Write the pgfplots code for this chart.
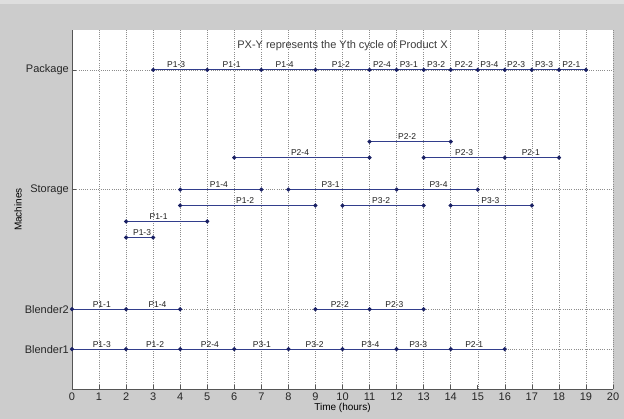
\documentclass[border=0pt]{standalone}
\usepackage{pgfplots}
\pgfplotsset{compat=1.18}
\usepackage{fontspec}
\setmainfont{Liberation Sans}
\definecolor{figbg}{RGB}{204,204,204}
\definecolor{figtop}{RGB}{222,222,222}
\definecolor{seg}{RGB}{50,62,140}
\definecolor{segdot}{RGB}{25,32,100}
\definecolor{gridc}{RGB}{140,140,140}
\definecolor{axc}{RGB}{85,85,85}
\definecolor{labc}{RGB}{30,30,30}
\definecolor{titc}{RGB}{60,60,60}

\pgfplotstableread{
x y
0 1
2 1
4 1
6 1
8 1
10 1
12 1
14 1
16 1
nan nan
0 2
2 2
4 2
nan nan
9 2
11 2
13 2
nan nan
3 8
5 8
7 8
9 8
11 8
12 8
13 8
14 8
15 8
16 8
17 8
18 8
19 8
nan nan
4 5
7 5
nan nan
8 5
12 5
15 5
nan nan
6 5.8
11 5.8
nan nan
13 5.8
16 5.8
18 5.8
nan nan
11 6.2
14 6.2
nan nan
4 4.6
9 4.6
nan nan
10 4.6
13 4.6
nan nan
14 4.6
17 4.6
nan nan
2 4.2
5 4.2
nan nan
2 3.8
3 3.8
}\segments

\pgfplotstableread{
x y label
1.10 1 P1-3
3.07 1 P1-2
5.10 1 P2-4
7.02 1 P3-1
8.97 1 P3-2
11.03 1 P3-4
12.80 1 P3-3
14.87 1 P2-1
1.10 2 P1-1
3.16 2 P1-4
9.90 2 P2-2
11.92 2 P2-3
3.85 8 P1-3
5.90 8 P1-1
7.86 8 P1-4
9.94 8 P1-2
11.46 8 P2-4
12.45 8 P3-1
13.46 8 P3-2
14.49 8 P2-2
15.43 8 P3-4
16.42 8 P2-3
17.45 8 P3-3
18.46 8 P2-1
12.39 6.2 P2-2
8.43 5.8 P2-4
14.50 5.8 P2-3
16.96 5.8 P2-1
5.43 5 P1-4
9.56 5 P3-1
13.55 5 P3-4
6.40 4.6 P1-2
11.43 4.6 P3-2
15.47 4.6 P3-3
3.20 4.2 P1-1
2.59 3.8 P1-3
}\labels

\begin{document}
\begin{tikzpicture}[x=1pt,y=1pt]
\fill[figbg] (0,0) rectangle (624,419);
\fill[figtop] (0,415) rectangle (624,419);
\begin{axis}[
  at={(72pt,30pt)}, anchor=south west,
  scale only axis, width=541pt, height=359pt,
  xmin=0, xmax=20, ymin=0, ymax=9,
  axis background/.style={fill=white},
  axis x line*=bottom, axis y line*=left,
  axis line style={-, draw=axc, line width=0.8pt},
  every outer x axis line/.append style={-},
  every outer y axis line/.append style={-},
  xtick={0,1,...,20},
  ytick={1,2,5,8},
  yticklabels={Blender1,Blender2,Storage,Package},
  tick align=inside, tick pos=left,
  major tick length=4pt,
  tick style={draw=axc, line width=0.6pt},
  grid=major,
  major grid style={draw=gridc, line width=0.45pt, dash pattern=on 0.7pt off 1.5pt},
  /pgf/number format/assume math mode=true,
  ticklabel style={font=\fontsize{11}{13}\selectfont, text=black!85},
  xticklabel style={anchor=north, inner sep=0pt, yshift=-4pt},
  yticklabel style={anchor=east, inner sep=0pt, xshift=-3pt},
  xlabel={Time (hours)},
  ylabel={Machines},
  label style={font=\fontsize{11}{13}\selectfont, text=black!85},
  every axis x label/.style={at={(axis description cs:0.5,-0.0538)}, anchor=center},
  every axis y label/.style={at={(axis description cs:-0.0998,0.5)}, rotate=90, anchor=center},
  clip=false,
]
\addplot[seg, line width=1.2pt, mark=*, mark size=1.4pt,
  mark options={fill=segdot, draw=segdot, solid}, unbounded coords=jump]
  table[x=x, y=y] {\segments};
\addplot[draw=none, mark=none, nodes near coords, point meta=explicit symbolic,
  every node near coord/.append style={anchor=base, inner sep=0pt, yshift=2pt,
    font=\fontsize{8.5}{10}\selectfont, text=labc}]
  table[x=x, y=y, meta=label] {\labels};
\node[font=\fontsize{11}{13}\selectfont, text=titc] at (axis cs:10,8.6)
  {PX-Y represents the Yth cycle of Product X};
\end{axis}
\pgfresetboundingbox
\useasboundingbox (0,0) rectangle (624,419);
\end{tikzpicture}
\end{document}
